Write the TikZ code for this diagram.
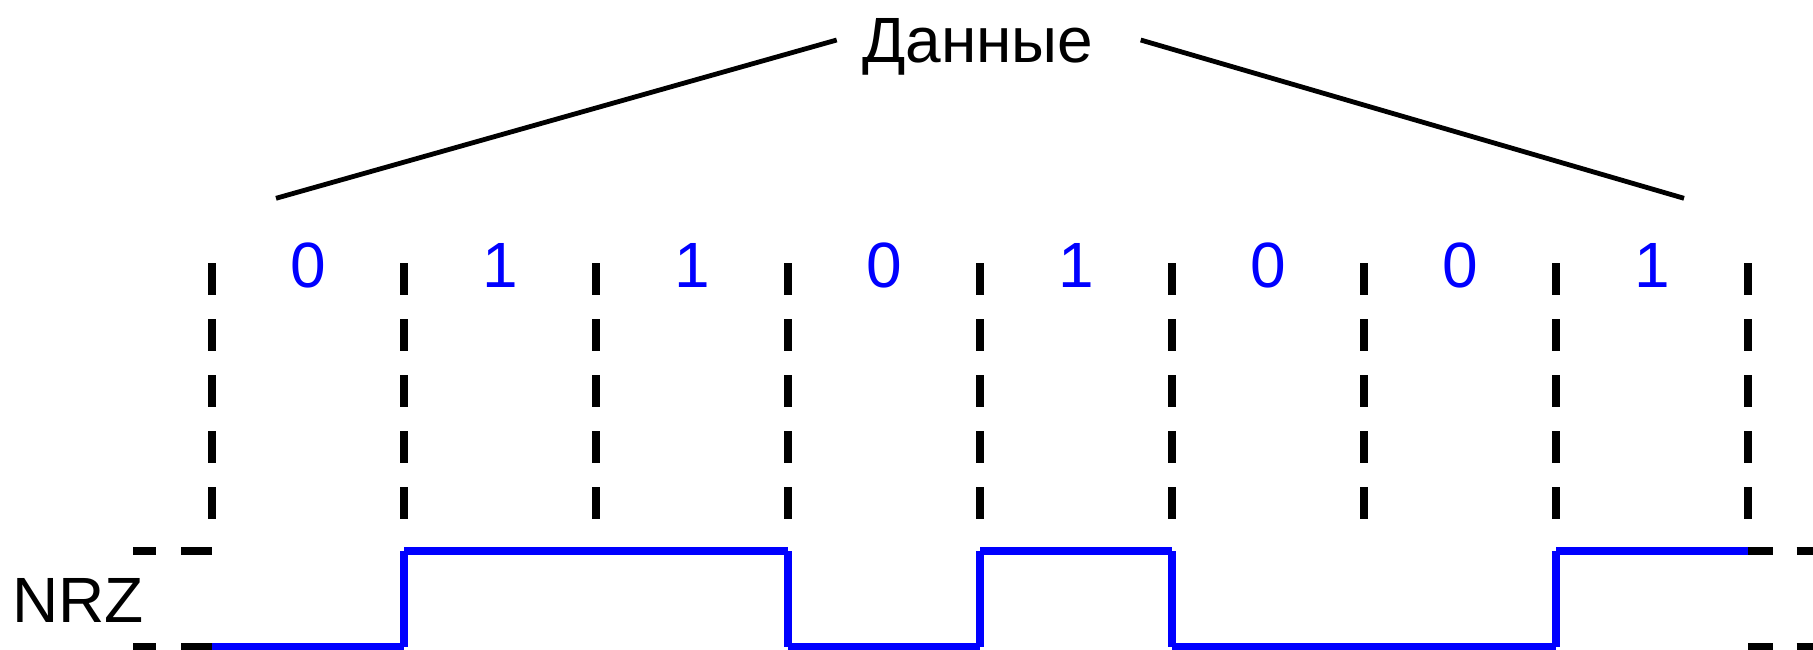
\documentclass[tikz,border=0pt]{standalone}
\usepackage{fontspec}
\setmainfont{Liberation Sans}
\definecolor{sigblue}{RGB}{0,0,255}
\begin{document}
\begin{tikzpicture}[x=0.5pt,y=-0.5pt,
  lbl/.style={inner sep=0pt,outer sep=0pt,font=\fontsize{32}{38}\selectfont},
  bitlbl/.style={lbl,text=sigblue,anchor=base},
  grid/.style={line width=4pt,black,line cap=butt,dash pattern=on 16pt off 12pt},
  lvl/.style={line width=4pt,black,line cap=butt},
  sig/.style={line width=4pt,sigblue,line cap=butt},
  brace/.style={line width=2.4pt,black,line cap=butt}]
\useasboundingbox (0,0) rectangle (1813,649);
% title and bracket lines
\node[lbl,anchor=base] (title) at (978,62.5) {Данные};
\coordinate (bl1) at (276,198.3);
\coordinate (bl2) at (836.7,40);
\coordinate (br1) at (1140.7,40);
\coordinate (br2) at (1684,198.3);
\draw[brace] (bl1) -- (bl2);
\draw[brace] (br1) -- (br2);
% vertical dashed lines
\foreach \i in {0,...,8}{
  \coordinate (t\i) at ({212.3+192*\i},263.3);
  \coordinate (b\i) at ({212.3+192*\i},519);
  \draw[grid] (t\i) -- (b\i);
}
% bit labels
\foreach \b [count=\i from 0] in {0,1,1,0,1,0,0,1}{
  \node[bitlbl] (bit\i) at ({308.3+192*\i},287.7) {\b};
}
% NRZ label
\node[lbl,anchor=base] (nrz) at (78,622.7) {NRZ};
% level reference dashes
\coordinate (hl1) at (133,551); \coordinate (hl2) at (156,551);
\coordinate (hl3) at (181,551); \coordinate (hl4) at (212.3,551);
\coordinate (ll1) at (133,647); \coordinate (ll2) at (156,647);
\coordinate (ll3) at (181,647); \coordinate (ll4) at (212.3,647);
\draw[lvl] (hl1) -- (hl2); \draw[lvl] (hl3) -- (hl4);
\draw[lvl] (ll1) -- (ll2); \draw[lvl] (ll3) -- (ll4);
\coordinate (hr1) at (1748.3,551); \coordinate (hr2) at (1772.7,551);
\coordinate (hr3) at (1796.7,551); \coordinate (hr4) at (1830,551);
\coordinate (lr1) at (1748.3,647); \coordinate (lr2) at (1772.7,647);
\coordinate (lr3) at (1796.7,647); \coordinate (lr4) at (1830,647);
\draw[lvl] (hr1) -- (hr2); \draw[lvl] (hr3) -- (hr4);
\draw[lvl] (lr1) -- (lr2); \draw[lvl] (lr3) -- (lr4);
% NRZ signal
\foreach \i in {0,...,8}{
  \coordinate (H\i) at ({212.3+192*\i},551);
  \coordinate (L\i) at ({212.3+192*\i},647);
}
\draw[sig] (L0) -- (L1);
\draw[sig] (L1) -- (H1);
\draw[sig] (H1) -- (H3);
\draw[sig] (H3) -- (L3);
\draw[sig] (L3) -- (L4);
\draw[sig] (L4) -- (H4);
\draw[sig] (H4) -- (H5);
\draw[sig] (H5) -- (L5);
\draw[sig] (L5) -- (L7);
\draw[sig] (L7) -- (H7);
\draw[sig] (H7) -- (H8);
\end{tikzpicture}
\end{document}
